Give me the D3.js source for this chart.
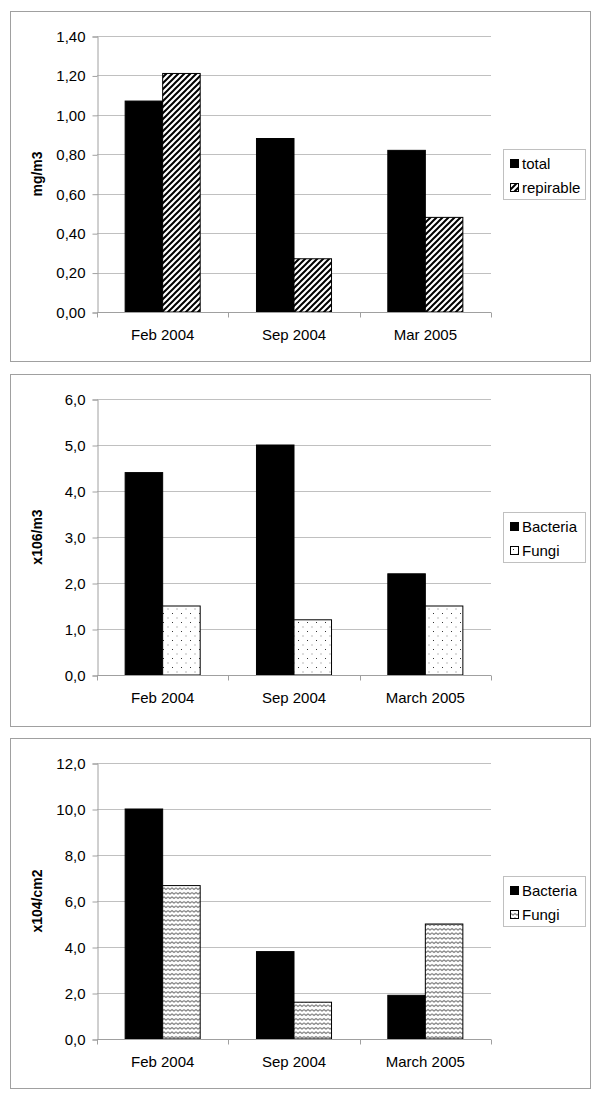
<!DOCTYPE html>
<html>
<head>
<meta charset="utf-8">
<script src="https://cdn.jsdelivr.net/npm/d3@7"></script>
<style>
  body { margin: 0; background: #fff; }
  text { font-family: "Liberation Sans", Arial, sans-serif; }
</style>
</head>
<body>
<script>
const width = 600, height = 1098;

// panel 1: dust
const dustDates = ["Feb 2004", "Sep 2004", "Mar 2005"];
const dustSeries = ["total", "repirable"];
const dustTotal = [1.07, 0.88, 0.82];
const dustRepirable = [1.21, 0.27, 0.48];
const dustTicks = [0, 0.2, 0.4, 0.6, 0.8, 1.0, 1.2, 1.4];

// panel 2: air
const airDates = ["Feb 2004", "Sep 2004", "March 2005"];
const airSeries = ["Bacteria", "Fungi"];
const airBacteria = [4.4, 5.0, 2.2];
const airFungi = [1.5, 1.2, 1.5];
const airTicks = [0, 1, 2, 3, 4, 5, 6];

// panel 3: surfaces
const surfDates = ["Feb 2004", "Sep 2004", "March 2005"];
const surfSeries = ["Bacteria", "Fungi"];
const surfBacteria = [10.0, 3.8, 1.9];
const surfFungi = [6.67, 1.6, 5.0];
const surfTicks = [0, 2, 4, 6, 8, 10, 12];

const svg = d3.select("body").append("svg")
    .attr("width", width)
    .attr("height", height);

const defs = svg.append("defs");

// diagonal hatch
const hatch = defs.append("pattern")
    .attr("id", "hatch")
    .attr("patternUnits", "userSpaceOnUse")
    .attr("width", 6).attr("height", 6);
hatch.append("rect").attr("width", 6).attr("height", 6).attr("fill", "#fff");
hatch.append("path")
    .attr("d", "M-1,1 l2,-2 M0,6 l6,-6 M5,7 l2,-2")
    .attr("stroke", "#000").attr("stroke-width", 2);

// dots
const dots = defs.append("pattern")
    .attr("id", "dots")
    .attr("patternUnits", "userSpaceOnUse")
    .attr("width", 9).attr("height", 9);
dots.append("rect").attr("width", 9).attr("height", 9).attr("fill", "#fff");
dots.append("rect").attr("x", 1).attr("y", 1).attr("width", 1).attr("height", 1).attr("fill", "#333");
dots.append("rect").attr("x", 5.5).attr("y", 5.5).attr("width", 1).attr("height", 1).attr("fill", "#777");

// zigzag
const wave = defs.append("pattern")
    .attr("id", "wave")
    .attr("patternUnits", "userSpaceOnUse")
    .attr("width", 8).attr("height", 4.5);
wave.append("rect").attr("width", 8).attr("height", 4.5).attr("fill", "#fff");
wave.append("path")
    .attr("d", "M0,1.5 L2,3 L4,1.5 L6,3 L8,1.5")
    .attr("fill", "none").attr("stroke", "#555").attr("stroke-width", 1);

function drawPanel(opts) {
  const top = opts.top;
  const g = svg.append("g");

  g.append("rect")
      .attr("x", 10.5).attr("y", top + 0.5)
      .attr("width", 580).attr("height", opts.boxH)
      .attr("fill", "#fff").attr("stroke", "#a0a0a0");

  const x = d3.scaleBand()
      .domain(opts.dates)
      .range([97, 491]);
  const y = d3.scaleLinear()
      .domain([0, d3.max(opts.ticks)])
      .range([top + 25 + 276, top + 25]);
  const sub = d3.scaleBand()
      .domain(opts.series)
      .range([0, x.bandwidth()])
      .paddingInner(0)
      .paddingOuter(0.75);

  // grid
  g.append("g").selectAll("line")
      .data(opts.ticks.slice(1))
      .enter().append("line")
      .attr("x1", 97).attr("x2", 491)
      .attr("y1", d => Math.round(y(d)) + 0.5)
      .attr("y2", d => Math.round(y(d)) + 0.5)
      .attr("stroke", "#c0c0c0");

  // y axis
  const ya = g.append("g")
      .attr("transform", "translate(97.5,0.5)")
      .call(d3.axisLeft(y).tickValues(opts.ticks).tickSize(5).tickPadding(7)
        .tickFormat(d => d3.format(opts.fmt)(d).replace(".", ",")));
  ya.select(".domain").attr("stroke", "#a0a0a0");
  ya.selectAll(".tick line").attr("stroke", "#a0a0a0");
  ya.selectAll("text").attr("font-size", 15).attr("fill", "#000")
      .attr("font-family", "'Liberation Sans', Arial, sans-serif");

  // bars
  opts.values.forEach((vals, si) => {
    g.append("g").selectAll("rect")
        .data(vals)
        .enter().append("rect")
        .attr("x", (d, i) => x(opts.dates[i]) + sub(opts.series[si]))
        .attr("width", sub.bandwidth())
        .attr("y", d => y(d))
        .attr("height", d => y(0) - y(d))
        .attr("fill", opts.fills[si])
        .attr("stroke", "#000")
        .attr("stroke-width", 1);
  });

  // x axis
  const xa = g.append("g")
      .attr("transform", "translate(0," + (Math.round(y(0)) + 0.5) + ")");
  xa.append("line").attr("x1", 97).attr("x2", 491).attr("stroke", "#a0a0a0");
  xa.selectAll(".bt")
      .data([0].concat(opts.dates))
      .enter().append("line")
      .attr("class", "bt")
      .attr("x1", (d, i) => i === 0 ? 97.5 : Math.round(x(d) + x.bandwidth()) + 0.5)
      .attr("x2", (d, i) => i === 0 ? 97.5 : Math.round(x(d) + x.bandwidth()) + 0.5)
      .attr("y1", 0).attr("y2", 5)
      .attr("stroke", "#a0a0a0");
  xa.selectAll(".lbl")
      .data(opts.dates)
      .enter().append("text")
      .attr("x", d => x(d) + x.bandwidth() / 2)
      .attr("y", 27)
      .attr("text-anchor", "middle")
      .attr("font-size", 15)
      .text(d => d);

  // y title
  g.append("text")
      .attr("transform", "translate(42," + (y(0) + y(d3.max(opts.ticks))) / 2 + ") rotate(-90)")
      .attr("text-anchor", "middle")
      .attr("font-size", 14)
      .attr("font-weight", "bold")
      .text(opts.title);

  // legend
  const ly = (y(0) + y(d3.max(opts.ticks))) / 2;
  const lg = g.append("g").attr("transform", "translate(503," + Math.round(ly - 25) + ")");
  lg.append("rect")
      .attr("x", 0.5).attr("y", 0.5)
      .attr("width", 82).attr("height", 50)
      .attr("fill", "#fff").attr("stroke", "#c0c0c0");
  opts.series.forEach((s, i) => {
    lg.append("rect")
        .attr("x", 7.5).attr("y", 10.5 + i * 24)
        .attr("width", 8).attr("height", 8)
        .attr("fill", opts.fills[i]).attr("stroke", "#000");
    lg.append("text")
        .attr("x", 19).attr("y", 19.5 + i * 24)
        .attr("font-size", 15)
        .text(s);
  });
}

drawPanel({
  top: 11, boxH: 350, dates: dustDates, series: dustSeries,
  values: [dustTotal, dustRepirable], ticks: dustTicks, fmt: ".2f",
  fills: ["#000", "url(#hatch)"], title: "mg/m3"
});
drawPanel({
  top: 374, boxH: 352, dates: airDates, series: airSeries,
  values: [airBacteria, airFungi], ticks: airTicks, fmt: ".1f",
  fills: ["#000", "url(#dots)"], title: "x106/m3"
});
drawPanel({
  top: 738, boxH: 350, dates: surfDates, series: surfSeries,
  values: [surfBacteria, surfFungi], ticks: surfTicks, fmt: ".1f",
  fills: ["#000", "url(#wave)"], title: "x104/cm2"
});
</script>
</body>
</html>
